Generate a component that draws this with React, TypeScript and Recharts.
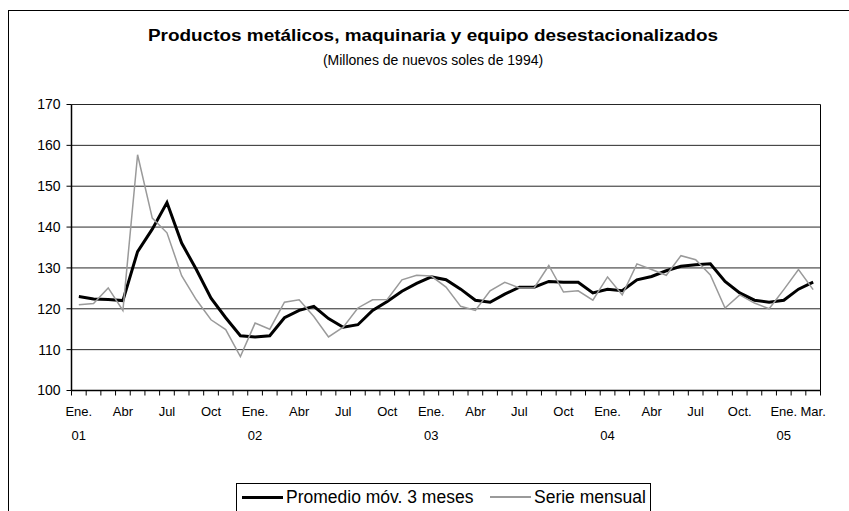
import { CartesianGrid, Legend, Line, LineChart, XAxis, YAxis } from "recharts"

// meses de Ene. 2001 a Mar. 2005
const months = [
  "Ene-01", "Feb-01", "Mar-01", "Abr-01", "May-01", "Jun-01", "Jul-01", "Ago-01", "Set-01", "Oct-01", "Nov-01", "Dic-01",
  "Ene-02", "Feb-02", "Mar-02", "Abr-02", "May-02", "Jun-02", "Jul-02", "Ago-02", "Set-02", "Oct-02", "Nov-02", "Dic-02",
  "Ene-03", "Feb-03", "Mar-03", "Abr-03", "May-03", "Jun-03", "Jul-03", "Ago-03", "Set-03", "Oct-03", "Nov-03", "Dic-03",
  "Ene-04", "Feb-04", "Mar-04", "Abr-04", "May-04", "Jun-04", "Jul-04", "Ago-04", "Set-04", "Oct-04", "Nov-04", "Dic-04",
  "Ene-05", "Feb-05", "Mar-05",
]

const promedio = [
  123.0, 122.4, 122.3, 122.0, 134.0, 139.5, 146.0, 136.1, 129.6, 122.6, 117.8, 113.4,
  113.1, 113.4, 117.8, 119.6, 120.6, 117.6, 115.5, 116.1, 119.6, 121.8, 124.3, 126.2,
  127.8, 127.1, 124.8, 122.1, 121.6, 123.6, 125.3, 125.3, 126.7, 126.5, 126.5, 123.9,
  124.8, 124.4, 127.1, 127.9, 129.3, 130.4, 130.8, 131.0, 126.7, 123.9, 122.1, 121.6,
  122.1, 124.8, 126.5,
]

const serie = [
  121.0, 121.3, 125.1, 119.6, 157.7, 142.2, 138.6, 128.1, 122.2, 117.3, 114.9, 108.3,
  116.5, 115.0, 121.6, 122.2, 118.1, 113.1, 115.5, 120.2, 122.2, 122.3, 127.1, 128.2,
  128.0, 125.3, 120.6, 119.6, 124.4, 126.5, 125.1, 125.1, 130.6, 124.1, 124.4, 122.1,
  127.8, 123.4, 131.0, 129.6, 128.2, 133.0, 132.0, 128.3, 120.2, 123.4, 121.4, 120.0,
  124.7, 129.6, 124.7,
]

const yTicks = [100, 110, 120, 130, 140, 150, 160, 170]

const tickLabels: Record<string, string[]> = {
  "Ene-01": ["Ene.", "01"], "Abr-01": ["Abr"], "Jul-01": ["Jul"], "Oct-01": ["Oct"],
  "Ene-02": ["Ene.", "02"], "Abr-02": ["Abr"], "Jul-02": ["Jul"], "Oct-02": ["Oct"],
  "Ene-03": ["Ene.", "03"], "Abr-03": ["Abr"], "Jul-03": ["Jul"], "Oct-03": ["Oct"],
  "Ene-04": ["Ene.", "04"], "Abr-04": ["Abr"], "Jul-04": ["Jul"], "Oct-04": ["Oct."],
  "Ene-05": ["Ene.", "05"], "Mar-05": ["Mar."],
}

const data = months.map((m, i) => ({ month: m, promedio: promedio[i], serie: serie[i] }))

const font = "'Liberation Sans', Arial, sans-serif"

// etiqueta de mes + marca en el límite izquierdo de cada mes
const MonthTick = (props: any) => {
  const { x, y, payload, index } = props
  const half = payload.offset ?? (props.width ? props.width / months.length / 2 : 7.35)
  const lines = tickLabels[payload.value] || []
  const last = index === months.length - 1
  return (
    <g>
      <line x1={x - half} x2={x - half} y1={y} y2={y + 5} stroke="#000" />
      {last && <line x1={x + half} x2={x + half} y1={y} y2={y + 5} stroke="#000" />}
      {lines.map((t, k) => (
        <text key={k} x={x} y={y + 25 + k * 24} textAnchor="middle" fontSize={13} fill="#000" fontFamily={font}>
          {t}
        </text>
      ))}
    </g>
  )
}

const LegendBox = (props: any) => {
  const items = props.payload || []
  return (
    <div style={{
      position: "relative", width: 415, height: 40, boxSizing: "border-box", border: "1px solid #000", background: "#fff",
      fontFamily: font, fontSize: 17.5, lineHeight: "20px",
    }}>
      {items.map((it: any, i: number) => (
        <div key={i} style={{ position: "absolute", top: 3, left: i === 0 ? 5 : 253, display: "flex", alignItems: "center", whiteSpace: "nowrap" }}>
          <span style={{ display: "inline-block", width: 41, height: i === 0 ? 3 : 1.5, background: it.color, marginRight: 3 }} />
          <span>{it.value}</span>
        </div>
      ))}
    </div>
  )
}

export default function App() {
  return (
    <div style={{ position: "absolute", left: 0, top: 0, width: 849, height: 511, overflow: "hidden", background: "#fff" }}>
      <div style={{ position: "absolute", left: 8, top: 10, width: 900, height: 600, border: "1px solid #000" }} />
      <svg width={849} height={80} style={{ position: "absolute", left: 0, top: 0 }}>
        <text x={433} y={41} textAnchor="middle" fontFamily={font} fontSize={16} fontWeight="bold"
          textLength={570} lengthAdjust="spacingAndGlyphs">
          Productos metálicos, maquinaria y equipo desestacionalizados
        </text>
        <text x={433} y={65} textAnchor="middle" fontFamily={font} fontSize={14}>
          (Millones de nuevos soles de 1994)
        </text>
      </svg>
      <div style={{ position: "absolute", left: 0, top: 0 }}>
        <LineChart width={849} height={511} data={data} margin={{ top: 104.5, right: 28.5, bottom: 60.5, left: 0 }}>
          <CartesianGrid vertical={false} stroke="#000" strokeOpacity={0.85} />
          <CartesianGrid horizontal={false} stroke="#000"
            verticalCoordinatesGenerator={({ offset }: any) => [offset.left + offset.width]} />
          <XAxis dataKey="month" scale="band" interval={0} tickLine={false} axisLine={{ stroke: "#000", strokeWidth: 1.5 }}
            tickSize={0} tickMargin={0} height={60} tick={<MonthTick />} />
          <YAxis domain={[100, 170]} ticks={yTicks} width={71.5} tickSize={5} tickMargin={6}
            tick={{ fill: "#000", fontSize: 14, fontFamily: font }} tickLine={{ stroke: "#000" }} axisLine={{ stroke: "#000", strokeWidth: 1.5 }} />
          <Line dataKey="promedio" name="Promedio móv. 3 meses" stroke="#000" strokeWidth={3}
            dot={false} activeDot={false} isAnimationActive={false} />
          <Line dataKey="serie" name="Serie mensual" stroke="#9a9a9a" strokeWidth={1.5}
            dot={false} activeDot={false} isAnimationActive={false} />
          <Legend verticalAlign="middle" align="center" content={<LegendBox />}
            wrapperStyle={{ left: 236, top: 483, width: "auto" }} />
        </LineChart>
      </div>
    </div>
  )
}
